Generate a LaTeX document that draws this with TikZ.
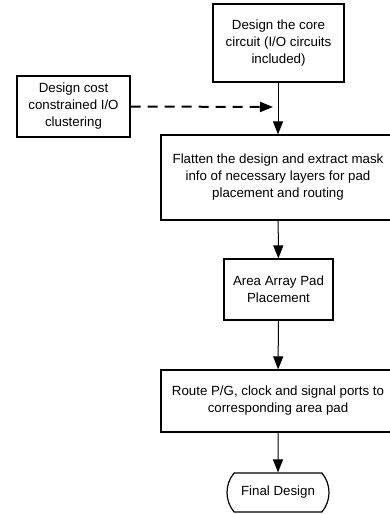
\documentclass[tikz,border=0pt]{standalone}
\usepackage{fontspec}
\setmainfont{Liberation Sans}
\usetikzlibrary{arrows.meta,shapes.misc}
\begin{document}
\begin{tikzpicture}[x=1pt,y=-1pt,
  every node/.style={font=\fontsize{13.3}{17}\selectfont, align=center, inner sep=0pt},
  stepbox/.style={draw, line width=1.2pt, rectangle},
  termbox/.style={draw, line width=1.2pt, rounded rectangle, rounded rectangle arc length=80},
  flow/.style={line width=1pt, -{Triangle[length=13pt,width=10pt]}},
  dashflow/.style={line width=2pt, dash pattern=on 10pt off 7pt, -{Triangle[length=13pt,width=10pt]}}
]
\useasboundingbox (0,0) rectangle (390,514);
\clip (0,0) rectangle (390,514);
\node[stepbox, minimum width=131pt, minimum height=78pt] (core) at (278.5,43) {Design the core\\circuit (I/O circuits\\included)};
\node[stepbox, minimum width=113pt, minimum height=61pt] (cost) at (73.5,106.5) {Design cost\\constrained I/O\\clustering};
\node[stepbox, minimum width=234pt, minimum height=85pt] (flat) at (278,177.5) {Flatten the design and extract mask\\info of necessary layers for pad\\placement and routing};
\node[stepbox, minimum width=109pt, minimum height=61pt] (area) at (278.5,289.5) {Area Array Pad\\Placement};
\node[stepbox, minimum width=234pt, minimum height=62pt] (route) at (278,401) {Route P/G, clock and signal ports to\\corresponding area pad};
\node[termbox, minimum width=102pt, minimum height=39pt] (final) at (278,492.5) {Final Design};
\coordinate (dashend) at (273,107);
\draw[flow] (core.south -| flat.north) -- (flat.north);
\draw[flow] (flat) -- (area);
\draw[flow] (area) -- (route);
\draw[flow] (route) -- (final);
\draw[dashflow] (cost.east) -- (dashend);
\end{tikzpicture}
\end{document}
